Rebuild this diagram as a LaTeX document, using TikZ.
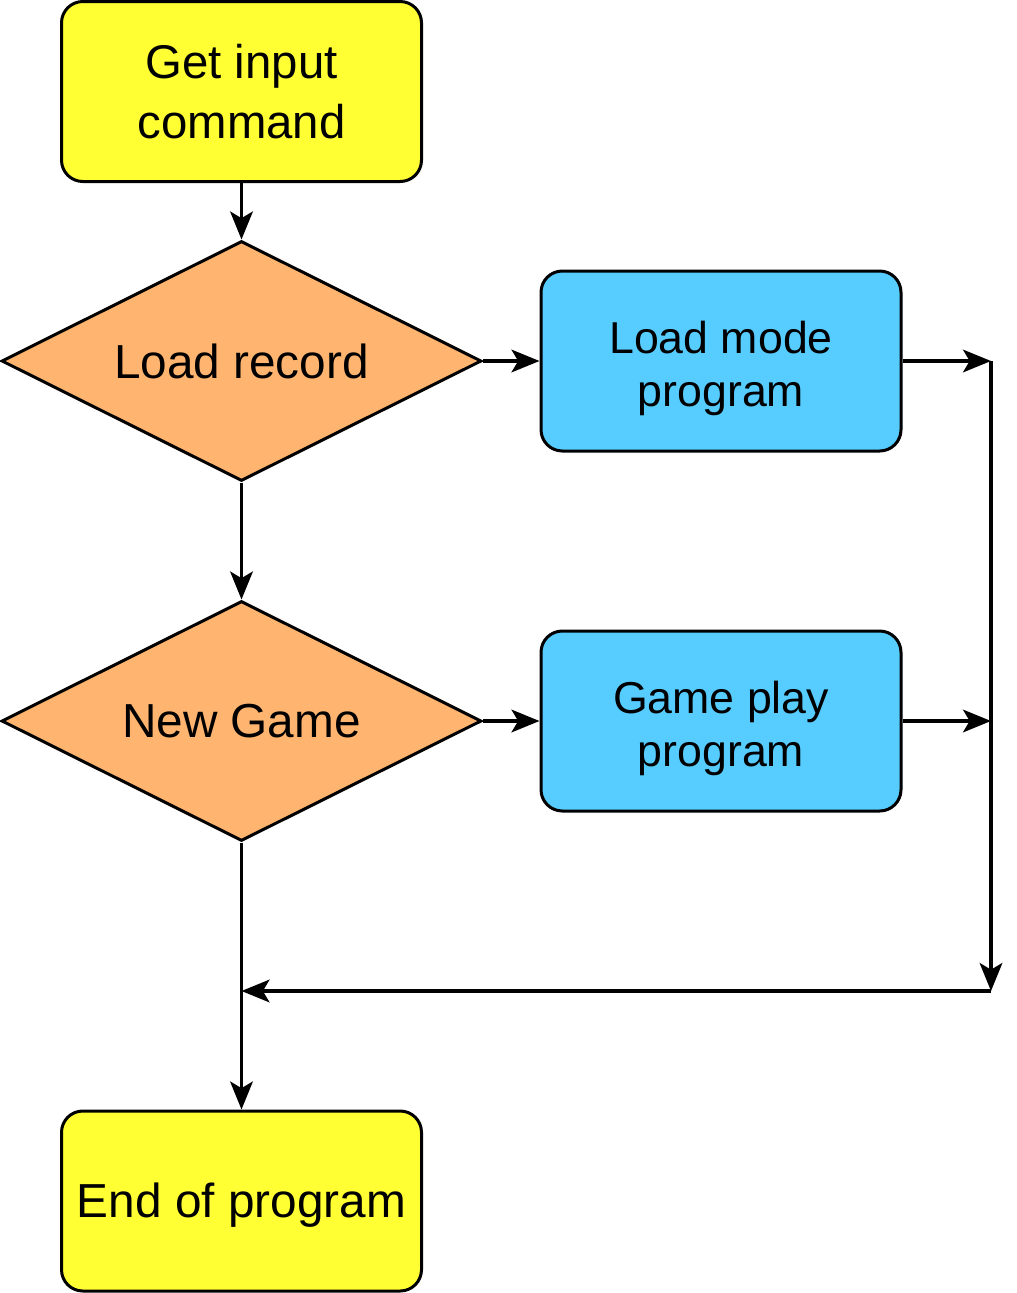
\documentclass[tikz,border=0pt]{standalone}
\usepackage{fontspec}
\setmainfont{Liberation Sans}
\usetikzlibrary{shapes.geometric,arrows.meta}
\definecolor{cyel}{HTML}{FFFF33}
\definecolor{corg}{HTML}{FFB570}
\definecolor{cblu}{HTML}{57CCFF}
\tikzset{
  box/.style={draw=black, line width=2.25pt, rounded corners=16pt, minimum width=270pt, minimum height=135pt, inner sep=0pt, align=center, font=\fontsize{33.5}{40}\selectfont},
  dec/.style={draw=black, line width=2.25pt, shape=diamond, aspect=2, fill=corg, minimum width=360pt, minimum height=180pt, inner sep=0pt, align=center, font=\fontsize{35.8}{45}\selectfont},
  conn/.style={line width=2.4pt, -{Stealth[length=21pt,width=17pt,inset=5pt]}},
  inlbl/.style={label={[font=\fontsize{33.5}{40}\selectfont, align=center, inner sep=0pt, yshift=#1]center:}},
}
\begin{document}
\begin{tikzpicture}[x=0.75pt,y=-0.75pt]
\useasboundingbox (0,0) rectangle (1017,1293);
\node[box, fill=cyel, font=\fontsize{35.5}{45}\selectfont] (start) at (241.5,91.5) {Get input\\command};
\node[dec] (load) at (241.5,361) {Load record};
\node[box, fill=cblu, label={[font=\fontsize{33.5}{40}\selectfont, align=center, inner sep=0pt, yshift=-5.6pt]center:{Load mode\\program}}] (lmp) at (721,361) {};
\node[dec] (new) at (241.5,721) {New Game};
\node[box, fill=cblu, label={[font=\fontsize{33.5}{40}\selectfont, align=center, inner sep=0pt, yshift=-5.6pt]center:{Game play\\program}}] (gpp) at (721,721) {};
\node[box, fill=cyel, label={[font=\fontsize{35.8}{45}\selectfont, inner sep=0pt, yshift=-3pt]center:End of program}] (end) at (241.5,1201) {};
\coordinate (r1) at (991,361);
\coordinate (r2) at (991,721);
\coordinate (r3) at (991,991);
\coordinate (j) at (241.5,991);
\draw[conn] (start.south) -- (load.north);
\draw[conn] (load.east) -- (lmp.west);
\draw[conn] (load.south) -- (new.north);
\draw[conn] (new.east) -- (gpp.west);
\draw[conn] (lmp.east) -- (r1);
\draw[conn] (gpp.east) -- (r2);
\draw[conn] (r1) -- (r3);
\draw[conn] (r3) -- (j);
\draw[conn] (new.south) -- (end.north);
\end{tikzpicture}
\end{document}
